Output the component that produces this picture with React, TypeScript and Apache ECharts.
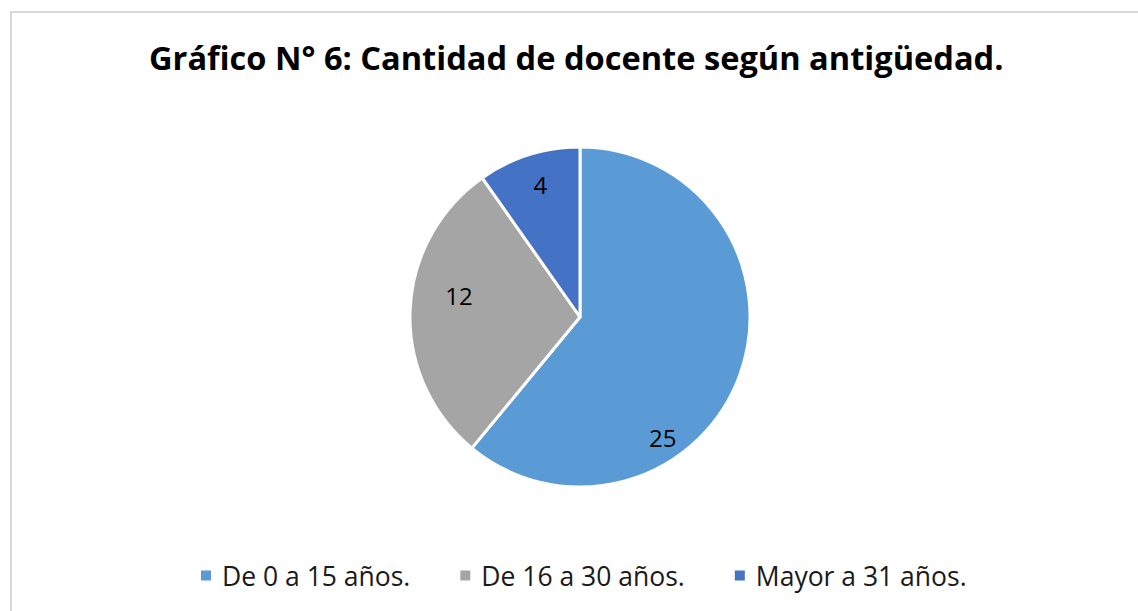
import React, { useEffect, useRef } from "react";
import * as echarts from "echarts";

const titleText = "Gráfico N° 6: Cantidad de docente según antigüedad.";
const categories = ["De 0 a 15 años.", "De 16 a 30 años.", "Mayor a 31 años."];
const values = [25, 12, 4];
const colors = ["#5B9BD5", "#A5A5A5", "#4472C4"];
const labelOffsets = [
  [0, 91],
  [-33, -18],
  [-13, -49],
];

export default function App() {
  const ref = useRef<HTMLDivElement>(null);
  useEffect(() => {
    document.body.style.margin = "0";
    const chart = echarts.init(ref.current!, null, { renderer: "svg" });
    const font = "'Open Sans', 'Noto Sans', sans-serif";
    chart.setOption({
      animation: false,
      backgroundColor: "#ffffff",
      title: {
        text: titleText,
        left: 144,
        top: 36,
        textStyle: { fontFamily: font, fontWeight: "bold", fontSize: 32.6, color: "#000000" },
      },
      legend: {
        top: 557,
        left: 194,
        icon: "rect",
        itemWidth: 12,
        itemHeight: 12,
        itemGap: 48,
        textStyle: { fontFamily: font, fontSize: 26.5, color: "#1a1a1a", padding: [0, 0, 0, 5] },
        data: categories,
      },
      graphic: [
        {
          type: "polyline",
          shape: { points: [[11, 611], [11, 12], [1138, 12]] },
          style: { stroke: "#d9d9d9", lineWidth: 2, fill: "none" },
          silent: true,
        },
      ],
      series: [
        {
          type: "pie",
          center: [580, 317],
          radius: [0, 170],
          startAngle: 90,
          clockwise: true,
          itemStyle: { borderColor: "#ffffff", borderWidth: 3 },
          label: {
            show: true,
            position: "inside",
            formatter: "{c}",
            fontFamily: font,
            fontSize: 24,
            color: "#000000",
          },
          labelLine: { show: false },
          emphasis: { disabled: true },
          data: categories.map((name, i) => ({
            name,
            value: values[i],
            itemStyle: { color: colors[i] },
            label: { offset: labelOffsets[i] },
          })),
        },
      ],
    });
    return () => chart.dispose();
  }, []);
  return (
    <div
      ref={ref}
      style={{ position: "fixed", left: 0, top: 0, width: 1138, height: 611 }}
    />
  );
}
